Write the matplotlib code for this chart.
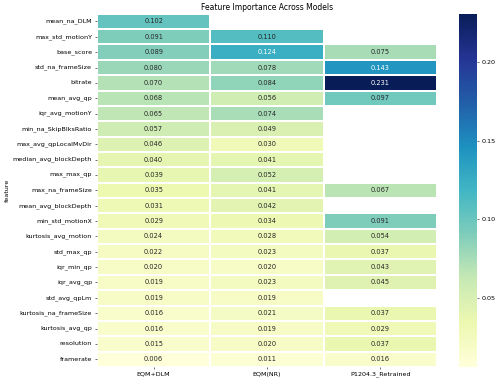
import numpy as np
import pandas as pd
import matplotlib
matplotlib.use('Agg')
import matplotlib.pyplot as plt
import seaborn as sns

nan = np.nan

features = ['mean_na_DLM', 'max_std_motionY', 'base_score', 'std_na_frameSize', 'bitrate',
            'mean_avg_qp', 'iqr_avg_motionY', 'min_na_SkipBlksRatio', 'max_avg_qpLocalMvDir',
            'median_avg_blockDepth', 'max_max_qp', 'max_na_frameSize', 'mean_avg_blockDepth',
            'min_std_motionX', 'kurtosis_avg_motion', 'std_max_qp', 'iqr_min_qp', 'iqr_avg_qp',
            'std_avg_qpLm', 'kurtosis_na_frameSize', 'kurtosis_avg_qp', 'resolution', 'framerate']
models = ['EQM+DLM', 'EQM(NR)', 'P1204.3_Retrained']

eqm_dlm = [0.102, 0.091, 0.089, 0.080, 0.070, 0.068, 0.065, 0.057, 0.046, 0.040, 0.039, 0.035,
           0.031, 0.029, 0.024, 0.022, 0.020, 0.019, 0.019, 0.016, 0.016, 0.015, 0.006]
eqm_nr = [nan, 0.110, 0.124, 0.078, 0.084, 0.056, 0.074, 0.049, 0.030, 0.041, 0.052, 0.041,
          0.042, 0.034, 0.028, 0.023, 0.020, 0.023, 0.019, 0.021, 0.019, 0.020, 0.011]
p1204 = [nan, nan, 0.075, 0.143, 0.231, 0.097, nan, nan, nan, nan, nan, 0.067,
         nan, 0.091, 0.054, 0.037, 0.043, 0.045, nan, 0.037, 0.029, 0.037, 0.016]
cbar_ticks = [0.05, 0.10, 0.15, 0.20]

df = pd.DataFrame({models[0]: eqm_dlm, models[1]: eqm_nr, models[2]: p1204}, index=features)
df.index.name = 'feature'

fig = plt.figure(figsize=(10, 7.66), dpi=50)
ax = fig.add_axes([0.194, 0.042, 0.68, 0.922])
cax = fig.add_axes([0.918, 0.042, 0.036, 0.922])
sns.heatmap(df, annot=True, fmt='.3f', cmap='YlGnBu', linewidths=0.5, linecolor='white',
            annot_kws={'fontsize': 9.5}, ax=ax, cbar_ax=cax,
            cbar_kws={'ticks': cbar_ticks})
ax.set_title('Feature Importance Across Models', fontsize=11)
ax.set_ylabel('feature', fontsize=9.2)
ax.tick_params(labelsize=9.2)
cax.tick_params(labelsize=9.2)
plt.savefig('out.png', dpi=50)
